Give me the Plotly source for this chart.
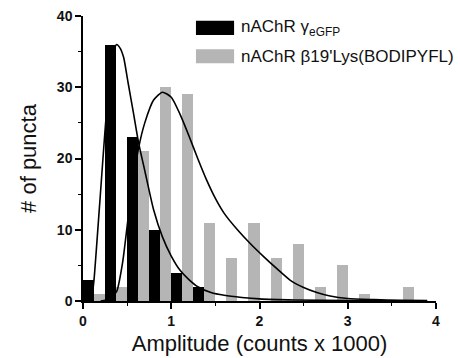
import plotly.graph_objects as go

# Histogram bins (counts x 1000), width 0.25
bin_centers = [0.125, 0.375, 0.625, 0.875, 1.125, 1.375, 1.625, 1.875,
               2.125, 2.375, 2.625, 2.875, 3.125, 3.375, 3.625]
black_counts = [3, 36, 23, 10, 4, 2]
grey_counts = [1, 2, 21, 30, 29, 11, 6, 11, 6, 8, 2, 5, 1, 0, 2]

# Fit curves
black_fit_x = [0.08, 0.10, 0.125, 0.15, 0.2, 0.25, 0.3, 0.35, 0.38, 0.42, 0.46,
               0.51, 0.57, 0.63, 0.7, 0.8, 0.9, 1.0, 1.1, 1.2, 1.3, 1.45, 1.6,
               1.8, 2.0, 2.4, 3.0, 3.9]
black_fit_y = [0, 0.5, 3, 7, 15.5, 24, 31, 35, 36, 35.5, 34.2, 30.7, 26.5, 22.2,
               18.3, 12.8, 9.0, 6.3, 4.3, 3.0, 2.0, 1.2, 0.8, 0.5, 0.3, 0.15,
               0.05, 0]
grey_fit_x = [0.2, 0.3, 0.38, 0.45, 0.51, 0.57, 0.63, 0.7, 0.8, 0.9, 1.0, 1.1,
              1.2, 1.3, 1.4, 1.5, 1.6, 1.75, 1.9, 2.05, 2.2, 2.35, 2.5, 2.65,
              2.8, 3.0, 3.3, 3.6, 3.9]
grey_fit_y = [0, 0.3, 1.3, 5.5, 11.5, 17, 21.5, 25, 28.2, 29.3, 28.6, 26.2,
              23.2, 20.0, 17.0, 14.4, 12.3, 10.0, 8.0, 6.2, 4.5, 2.9, 1.9, 1.2,
              0.7, 0.35, 0.2, 0.1, 0.05]

x_ticks = [0, 1, 2, 3, 4]
y_ticks = [0, 10, 20, 30, 40]
legend_labels = ["nAChR γ<sub>eGFP</sub>", "nAChR β19'Lys(BODIPYFL)"]

BLACK = "#000000"
GREY = "#b5b5b5"
FONT = "Arial, Liberation Sans, Helvetica, sans-serif"

fig = go.Figure()
fig.add_trace(go.Bar(x=bin_centers[:len(black_counts)], y=black_counts,
                     marker=dict(color=BLACK, line=dict(width=0)),
                     name=legend_labels[0]))
fig.add_trace(go.Bar(x=bin_centers, y=grey_counts,
                     marker=dict(color=GREY, line=dict(width=0)),
                     name=legend_labels[1]))
fig.add_trace(go.Scatter(x=black_fit_x, y=black_fit_y, mode="lines",
                         line=dict(color=BLACK, width=1.6, shape="spline", smoothing=0.6),
                         showlegend=False))
fig.add_trace(go.Scatter(x=grey_fit_x, y=grey_fit_y, mode="lines",
                         line=dict(color=BLACK, width=1.6, shape="spline", smoothing=0.6),
                         showlegend=False))

# Manual legend (patches + labels)
patch_colors = [BLACK, GREY]
rows = [(0.9835, 0.933), (0.883, 0.834)]
for (y1, y0), c, lab in zip(rows, patch_colors, legend_labels):
    fig.add_shape(type="rect", xref="paper", yref="paper", x0=0.320, x1=0.428,
                  y0=y0, y1=y1, fillcolor=c, line=dict(width=0))
    fig.add_annotation(xref="paper", yref="paper", x=0.442, y=(y0 + y1) / 2,
                       text=lab, showarrow=False, xanchor="left", yanchor="middle",
                       font=dict(family=FONT, size=17, color="#111111"))

fig.update_layout(
    width=460, height=358,
    margin=dict(l=83, r=24, t=16, b=57, autoexpand=False),
    paper_bgcolor="white", plot_bgcolor="white",
    barmode="group", bargap=0, bargroupgap=0,
    showlegend=False,
    font=dict(family=FONT, color="#111111"),
)
fig.update_xaxes(
    automargin=False,
    range=[0, 4], tickvals=x_ticks, ticktext=[f"<b>{v}</b>" for v in x_ticks],
    showline=True, linecolor=BLACK, linewidth=1.5, showgrid=False, zeroline=False,
    ticks="outside", ticklen=6, tickwidth=1.5, tickcolor=BLACK,
    tickfont=dict(size=14, family=FONT, color="#111111"),
    minor=dict(dtick=0.5, ticks="outside", ticklen=3, tickwidth=1.2, tickcolor=BLACK, showgrid=False),
    title=dict(text="Amplitude (counts x 1000)", font=dict(size=22, family=FONT), standoff=8),
)
fig.update_yaxes(
    automargin=False,
    range=[0, 40], tickvals=y_ticks, ticktext=[f"<b>{v}</b>" for v in y_ticks],
    showline=True, linecolor=BLACK, linewidth=1.5, showgrid=False, zeroline=False,
    ticks="outside", ticklen=6, tickwidth=1.5, tickcolor=BLACK,
    tickfont=dict(size=14, family=FONT, color="#111111"),
    minor=dict(dtick=5, ticks="outside", ticklen=3, tickwidth=1.2, tickcolor=BLACK, showgrid=False),
    title=dict(text="# of puncta", font=dict(size=22, family=FONT), standoff=14),
)

fig.write_html("out.html",
               config={"displayModeBar": False},
               post_script="document.body.style.margin='0';document.body.style.overflow='hidden';")
